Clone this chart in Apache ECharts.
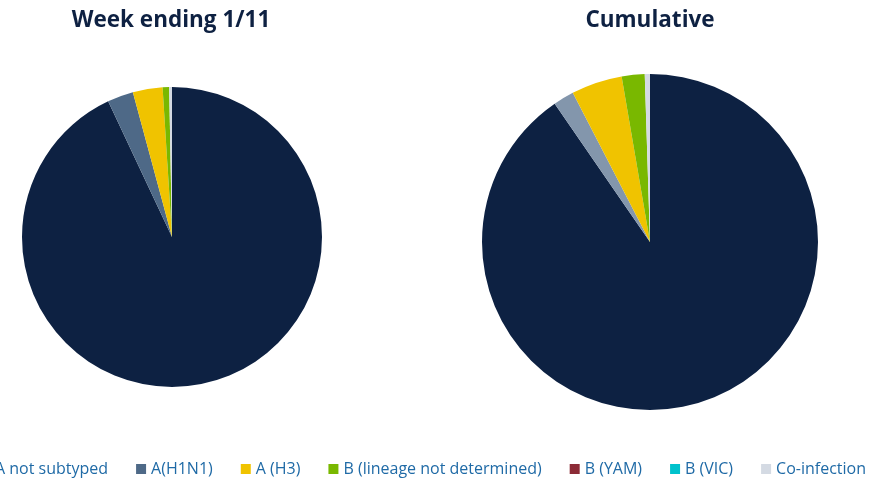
<!DOCTYPE html>
<html>
<head>
<meta charset="utf-8">
<script src="https://cdn.jsdelivr.net/npm/echarts@6/dist/echarts.min.js"></script>
<style>
html,body{margin:0;padding:0;background:#fff;}
#chart{width:881px;height:481px;}
</style>
</head>
<body>
<div id="chart"></div>
<script>
const categories = ['A not subtyped', 'A(H1N1)', 'A (H3)', 'B (lineage not determined)', 'B (YAM)', 'B (VIC)', 'Co-infection'];
const weekValues = [93.0, 2.8, 3.2, 0.7, 0, 0, 0.3];
const cumulativeValues = [90.4, 2.0, 4.9, 2.2, 0, 0, 0.5];
const titles = ['Week ending 1/11', 'Cumulative'];

const colors = ['#0d2142', '#4e6987', '#f0c300', '#79b800', '#8c2b36', '#00c2cc', '#d4dae3'];
const cumulativeColors = ['#0d2142', '#8396ac', '#f0c300', '#79b800', '#8c2b36', '#00c2cc', '#d4dae3'];

const chart = echarts.init(document.getElementById('chart'));
function makeData(vals, cols) {
  return categories.map((c, i) => ({ name: c, value: vals[i], itemStyle: { color: cols[i] } }));
}
chart.setOption({
  animation: false,
  color: colors,
  title: [
    { text: titles[0], left: 166, top: 4, textAlign: 'center',
      textStyle: { fontFamily: 'Open Sans', fontWeight: 'bold', fontSize: 22.5, color: '#0e2142' } },
    { text: titles[1], left: 645, top: 4, textAlign: 'center',
      textStyle: { fontFamily: 'Open Sans', fontWeight: 'bold', fontSize: 22.5, color: '#0e2142' } }
  ],
  legend: {
    data: categories,
    left: -25,
    top: 456,
    width: 1000,
    itemWidth: 10,
    itemHeight: 10,
    itemGap: 28,
    icon: 'rect',
    textStyle: { fontFamily: 'Open Sans', fontSize: 16, color: '#1f6aa6' }
  },
  series: [
    {
      type: 'pie', center: [172, 237], radius: 150, startAngle: 90, clockwise: true,
      label: { show: false }, labelLine: { show: false }, silent: true,
      itemStyle: { borderWidth: 0 },
      data: makeData(weekValues, colors)
    },
    {
      type: 'pie', center: [650, 242], radius: 168, startAngle: 90, clockwise: true,
      label: { show: false }, labelLine: { show: false }, silent: true,
      itemStyle: { borderWidth: 0 },
      data: makeData(cumulativeValues, cumulativeColors)
    }
  ]
});
</script>
</body>
</html>
